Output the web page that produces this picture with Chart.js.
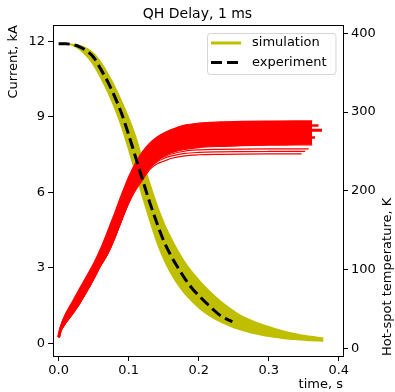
<!DOCTYPE html>
<html>
<head>
<meta charset="utf-8">
<script src="https://cdn.jsdelivr.net/npm/chart.js@4"></script>
<style>
  body { margin: 0; background: #fff; }
  canvas { display: block; }
</style>
</head>
<body>
<canvas id="qhChart" width="395" height="392"></canvas>
<script>
// time axis ticks and value ticks
var timeTicks = [0, 0.1, 0.2, 0.3, 0.4];
var currentTicks = [0, 3, 6, 9, 12];
var tempTicks = [0, 100, 200, 300, 400];

// simulated current, edges of the band (kA)
var tSim = [0, 0.01, 0.02, 0.03, 0.04, 0.05, 0.06, 0.07, 0.08, 0.09, 0.10, 0.11, 0.12, 0.13, 0.14, 0.15, 0.16, 0.17, 0.18, 0.19,
            0.20, 0.21, 0.22, 0.23, 0.24, 0.25, 0.26, 0.27, 0.28, 0.29, 0.30, 0.31, 0.32, 0.33, 0.34, 0.35, 0.36, 0.37, 0.378];
var simUpper = [11.9, 11.9, 11.88, 11.83, 11.72, 11.52, 11.17, 10.72, 10.2, 9.6, 8.95, 8.2, 7.25, 6.35, 5.52, 4.8, 4.2, 3.68, 3.22, 2.84,
                2.52, 2.22, 1.95, 1.7, 1.48, 1.28, 1.1, 0.97, 0.85, 0.75, 0.66, 0.57, 0.49, 0.42, 0.36, 0.31, 0.27, 0.23, 0.2];
var simLower = [11.9, 11.9, 11.84, 11.68, 11.42, 11.06, 10.56, 10.0, 9.35, 8.6, 7.7, 6.75, 5.8, 4.9, 4.05, 3.35, 2.8, 2.35, 1.98, 1.68,
                1.42, 1.2, 1.02, 0.87, 0.74, 0.63, 0.54, 0.46, 0.39, 0.33, 0.28, 0.24, 0.2, 0.17, 0.15, 0.13, 0.11, 0.1, 0.09];

// measured current (kA)
var tExp = [0, 0.01, 0.02, 0.03, 0.04, 0.05, 0.06, 0.07, 0.08, 0.09, 0.10, 0.11, 0.12, 0.13, 0.14, 0.15, 0.16, 0.17, 0.18, 0.19,
            0.20, 0.21, 0.22, 0.23, 0.24, 0.248];
var expCurrent = [11.9, 11.9, 11.87, 11.78, 11.62, 11.36, 10.9, 10.4, 9.8, 9.12, 8.28, 7.38, 6.48, 5.6, 4.8, 4.07, 3.5, 3.02, 2.58, 2.2,
                  1.9, 1.62, 1.36, 1.12, 0.96, 0.86];

// hot-spot temperature runs (K)
var tRed = [0, 0.003, 0.01, 0.02, 0.03, 0.04, 0.05, 0.06, 0.07, 0.08, 0.09, 0.10, 0.11, 0.12, 0.13, 0.14, 0.15, 0.16, 0.18, 0.20,
            0.23, 0.26, 0.30, 0.34, 0.347, 0.352, 0.357, 0.362, 0.366, 0.371, 0.376];
var tempTop = [14, 28, 44, 60, 76, 92, 108, 127, 149, 172, 196, 218, 236, 250, 260.5, 268, 273.5, 277.5, 283.5, 286,
               287.5, 288.2, 288.6, 288.8, 288.8, 288.8, 288.8, 288.8];
var tempMid1 = [14, 26, 41, 56, 71, 87, 103, 121, 141, 164, 188, 210, 228, 243, 254, 262, 268, 272, 277.5, 280,
                281.5, 282.3, 282.8, 283, 283, 283, 283, 283, 283, 283];
var tempMid2 = [14, 25, 38, 52, 66.5, 82, 98, 116, 135, 157, 181, 203.5, 222.5, 237, 248, 256, 262, 266, 271, 273.8,
                275.3, 276.1, 276.7, 276.9, 277, 277, 277, 277, 277, 277, 277];
var tempMid3 = [14, 23.5, 35, 48, 61.5, 77, 93, 110.5, 127, 148, 171, 194, 213, 228, 239, 247, 253, 257, 261.5, 264,
                265.6, 266.5, 267.2, 267.5, 267.6, 267.7, 267.7, 267.7, 267.7];
var tempLow = [14, 22, 32, 44, 57, 72, 88, 105, 120, 140, 163, 186, 205, 219, 230, 238, 244, 248, 252.5, 255,
               256.5, 257.3, 258, 258.3, 258.4, 258.5, 258.5, 258.5];
var tempSep1 = [14, 22, 32, 44, 57, 72, 88, 105, 120, 140, 163, 185.5, 204, 217.5, 230, 238, 243, 246.5, 250.5, 252,
                252.7, 253, 253.2, 253.3, 253.3, 253.3, 253.3];
var tempSep2 = [14, 22, 32, 44, 57, 72, 88, 105, 120, 140, 163, 185, 203, 216, 229, 236.5, 241, 244, 247.5, 248.8,
                249.5, 249.8, 250, 250.1, 250.1, 250.1];
var tempSep3 = [14, 22, 32, 44, 57, 72, 88, 105, 120, 140, 163, 184, 201, 214, 227, 234, 237.5, 241, 244.5, 245.8,
                246.4, 246.7, 246.9, 247, 247];

var YELLOW = 'rgb(191, 191, 0)';
var RED = 'rgb(255, 0, 0)';
var FONT = 'DejaVu Sans';

function pts(t, v) {
    return v.map(function (y, i) { return {x: t[i], y: y}; });
}

function redLine(values, width, fillTarget) {
    return {
        data: pts(tRed, values), yAxisID: 'yT', borderColor: RED, backgroundColor: RED,
        borderWidth: width, pointRadius: 0, fill: fillTarget === undefined ? false : fillTarget,
        cubicInterpolationMode: 'monotone', order: 2
    };
}

var datasets = [
    {label: 'simulation', data: pts(tSim, simLower), yAxisID: 'yI', borderColor: YELLOW, borderWidth: 1.5,
     pointRadius: 0, fill: false, cubicInterpolationMode: 'monotone', order: 3},
    {label: 'simulation upper', data: pts(tSim, simUpper), yAxisID: 'yI', borderColor: YELLOW, backgroundColor: YELLOW,
     borderWidth: 1.5, pointRadius: 0, fill: 0, cubicInterpolationMode: 'monotone', order: 3},
    redLine(tempLow, 1.2),
    redLine(tempTop, 1.2, 2),
    redLine(tempMid1, 2.5),
    redLine(tempMid2, 3),
    redLine(tempMid3, 2.5),
    redLine(tempSep1, 1.2),
    redLine(tempSep2, 1.2),
    redLine(tempSep3, 1.2),
    {label: 'experiment', data: pts(tExp, expCurrent), yAxisID: 'yI', borderColor: '#000', borderWidth: 3,
     borderDash: [11, 5], pointRadius: 0, fill: false, cubicInterpolationMode: 'monotone', order: 1}
];

function fixTicks(values) {
    return function (scale) {
        scale.ticks = values.map(function (v) { return {value: v}; });
    };
}

var tickGrid = {drawOnChartArea: false, drawTicks: true, tickLength: 5, tickColor: '#000', tickWidth: 1};

// legend box, top spine and right-hand axis label
var extras = {
    id: 'extras',
    afterDraw: function (chart) {
        var ctx = chart.ctx;
        var a = chart.chartArea;
        ctx.save();
        ctx.strokeStyle = '#000';
        ctx.lineWidth = 1;
        ctx.beginPath();
        ctx.moveTo(a.left, a.top + 0.5);
        ctx.lineTo(a.right, a.top + 0.5);
        ctx.stroke();

        ctx.fillStyle = 'rgba(255,255,255,0.8)';
        ctx.strokeStyle = 'rgba(204,204,204,0.8)';
        ctx.beginPath();
        ctx.roundRect(207.5, 33.5, 128.5, 41, 3);
        ctx.fill();
        ctx.stroke();

        var items = [
            {text: 'simulation', color: YELLOW, dash: [], y: 43},
            {text: 'experiment', color: '#000', dash: [11, 5], y: 62.5}
        ];
        ctx.font = '13px "' + FONT + '"';
        ctx.textBaseline = 'middle';
        items.forEach(function (it) {
            ctx.strokeStyle = it.color;
            ctx.lineWidth = 3;
            ctx.setLineDash(it.dash);
            ctx.beginPath();
            ctx.moveTo(211, it.y);
            ctx.lineTo(241, it.y);
            ctx.stroke();
            ctx.setLineDash([]);
            ctx.fillStyle = '#000';
            ctx.textAlign = 'left';
            ctx.fillText(it.text, 252, it.y);
        });

        ctx.translate(388, a.bottom);
        ctx.rotate(-Math.PI / 2);
        ctx.textAlign = 'left';
        ctx.fillText('Hot-spot temperature, K', 0, 0);
        ctx.restore();
    }
};

new Chart(document.getElementById('qhChart'), {
    type: 'line',
    data: {datasets: datasets},
    plugins: [extras],
    options: {
        responsive: false,
        animation: false,
        devicePixelRatio: 1,
        layout: {padding: 0},
        font: {family: FONT, size: 13},
        color: '#000',
        plugins: {
            legend: {display: false},
            tooltip: {enabled: false},
            title: {display: true, text: 'QH Delay, 1 ms', color: '#000',
                    font: {family: FONT, size: 14, weight: 'normal'}, padding: {top: 5.5, bottom: 2.7}}
        },
        scales: {
            x: {
                type: 'linear', min: -0.0081, max: 0.406,
                afterBuildTicks: fixTicks(timeTicks),
                afterFit: function (s) { s.height = 36; },
                ticks: {color: '#000', padding: 2, font: {family: FONT, size: 13},
                        callback: function (v) { return v.toFixed(1); }},
                grid: tickGrid,
                border: {color: '#000', width: 1},
                title: {display: true, text: 'time, s', align: 'end', color: '#000',
                        font: {family: FONT, size: 13}, padding: 0}
            },
            yI: {
                type: 'linear', position: 'left', min: -0.505, max: 12.65,
                afterBuildTicks: fixTicks(currentTicks),
                afterFit: function (s) { s.width = 53; },
                ticks: {color: '#000', padding: 3, font: {family: FONT, size: 13}},
                grid: tickGrid,
                border: {color: '#000', width: 1},
                title: {display: true, text: 'Current, kA', align: 'end', color: '#000',
                        font: {family: FONT, size: 13}, padding: {top: 6, bottom: 0}}
            },
            yT: {
                type: 'linear', position: 'right', min: -9.9, max: 410.7,
                afterBuildTicks: fixTicks(tempTicks),
                afterFit: function (s) { s.width = 52; },
                ticks: {color: '#000', padding: 3, font: {family: FONT, size: 13}},
                grid: tickGrid,
                border: {color: '#000', width: 1}
            }
        }
    }
});
</script>
</body>
</html>
